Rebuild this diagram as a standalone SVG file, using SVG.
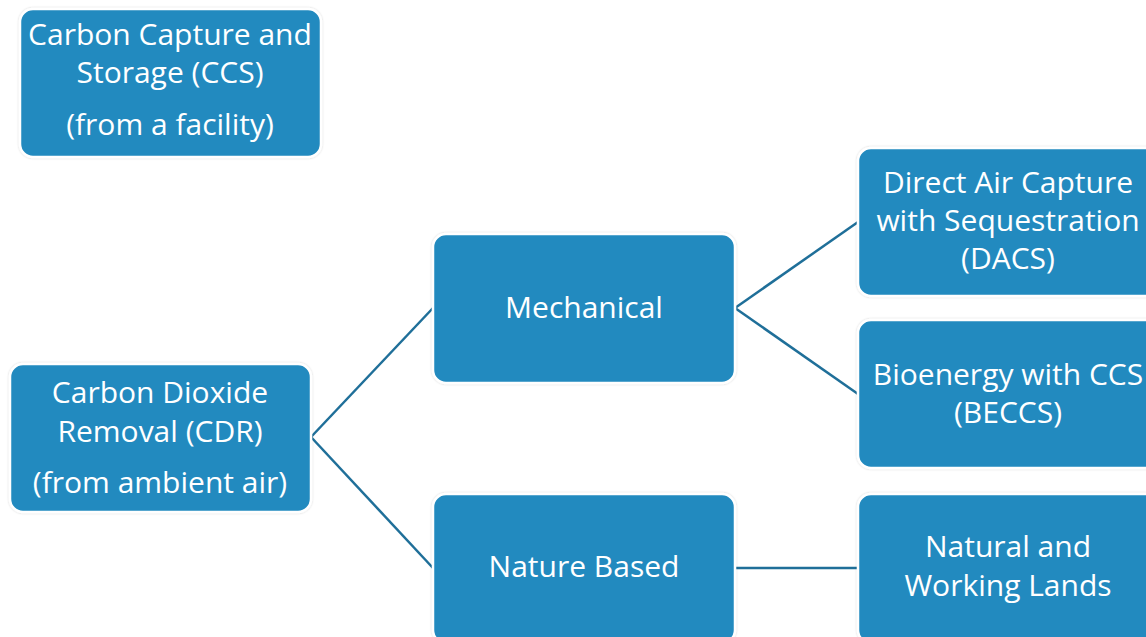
<svg xmlns="http://www.w3.org/2000/svg" width="1146" height="637" viewBox="0 0 1146 637">
<style>
.box{fill:#218ABF;stroke:#ffffff;stroke-width:2.5;filter:url(#sh)}
.t{font-family:"Open Sans","Noto Sans",sans-serif;font-size:30px;fill:#ffffff;text-anchor:middle}
.c{stroke:#1F6F99;stroke-width:2.5;fill:none}
</style>
<defs>
<filter id="sh" x="-5%" y="-5%" width="110%" height="110%">
<feDropShadow dx="0" dy="0" stdDeviation="1.2" flood-color="#000" flood-opacity="0.18"/>
</filter>
</defs>
<rect width="1146" height="637" fill="#ffffff"/>
<g id="connectors">
<line class="c" x1="311" y1="437" x2="433" y2="308"/>
<line class="c" x1="311" y1="437" x2="433" y2="568"/>
<line class="c" x1="735" y1="308" x2="858" y2="222"/>
<line class="c" x1="735" y1="308" x2="858" y2="394"/>
<line class="c" x1="735" y1="568" x2="858" y2="568"/>
</g>
<g id="ccs">
<rect class="box" x="20" y="9" width="301" height="148" rx="13"/>
<text class="t" x="170" y="45">Carbon Capture and</text>
<text class="t" x="170" y="83">Storage (CCS)</text>
<text class="t" x="170" y="135">(from a facility)</text>
</g>
<g id="cdr">
<rect class="box" x="10" y="364" width="301" height="148" rx="13"/>
<text class="t" x="160" y="403">Carbon Dioxide</text>
<text class="t" x="160" y="442">Removal (CDR)</text>
<text class="t" x="160" y="493">(from ambient air)</text>
</g>
<g id="mechanical">
<rect class="box" x="433" y="234" width="302" height="149" rx="13"/>
<text class="t" x="584" y="318">Mechanical</text>
</g>
<g id="nature">
<rect class="box" x="433" y="494" width="302" height="149" rx="13"/>
<text class="t" x="584" y="577">Nature Based</text>
</g>
<g id="dacs">
<rect class="box" x="858" y="148" width="302" height="148" rx="13"/>
<text class="t" x="1008" y="193">Direct Air Capture</text>
<text class="t" x="1008" y="231">with Sequestration</text>
<text class="t" x="1008" y="269">(DACS)</text>
</g>
<g id="beccs">
<rect class="box" x="858" y="320" width="302" height="148" rx="13"/>
<text class="t" x="1008" y="385">Bioenergy with CCS</text>
<text class="t" x="1008" y="423">(BECCS)</text>
</g>
<g id="lands">
<rect class="box" x="858" y="494" width="302" height="149" rx="13"/>
<text class="t" x="1008" y="557">Natural and</text>
<text class="t" x="1008" y="596">Working Lands</text>
</g>
</svg>
